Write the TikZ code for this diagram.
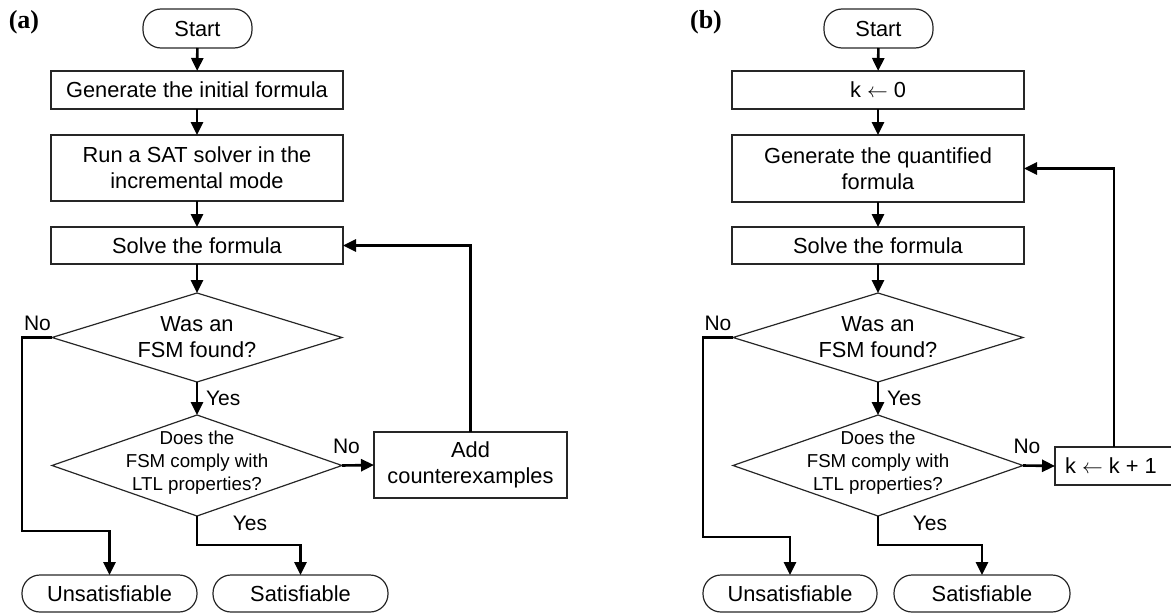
\documentclass[tikz,border=0pt]{standalone}
\usepackage{fontspec}
\setmainfont{Liberation Sans}
\newfontfamily\labfont{Liberation Serif}
\usetikzlibrary{shapes.geometric,arrows.meta}
\begin{document}
\begin{tikzpicture}[x=1pt,y=-1pt,
  every node/.style={inner sep=0pt,outer sep=0pt},
  txt/.style={font=\fontsize{21.8}{26}\selectfont,align=center},
  small/.style={font=\fontsize{18.7}{23}\selectfont,align=center},
  lbl/.style={font=\fontsize{21}{24}\selectfont},
  panel/.style={font=\labfont\bfseries\fontsize{26}{28}\selectfont},
  procbox/.style={draw=black!85,line width=1.2pt,rectangle,minimum width=292pt,txt},
  termbox/.style={draw=black!85,line width=1.2pt,rectangle,rounded corners=18pt,minimum height=38pt,txt},
  dia/.style={draw=black!85,line width=1.2pt,diamond,minimum width=290pt},
  conn/.style={line width=2.6pt,-{Triangle[length=13pt,width=12pt]}},
]
\useasboundingbox (0,0) rectangle (1171,613);
% ---------------- panel (a)
\node[panel] (pa) at (24,22) {(a)};
\node[termbox,minimum width=109pt,minimum height=39pt] (startA) at (197.5,28.5) {Start};
\node[procbox,minimum height=38pt] (genA) at (197,90) {Generate the initial formula};
\node[procbox,minimum height=66pt] (runA) at (197,168) {Run a SAT solver in the\\incremental mode};
\node[procbox,minimum height=37pt] (solveA) at (197,245.5) {Solve the formula};
\node[dia,minimum height=89pt] (d1A) at (197,337.5) {};
\node[txt] (t1A) at (d1A.center) {Was an\\FSM found?};
\node[dia,minimum height=101pt] (d2A) at (197,465.5) {};
\node[small] (t2A) at (197,463) {Does the\\FSM comply with\\LTL properties?};
\node[procbox,minimum width=193pt,minimum height=66pt] (addA) at (470.5,465) {Add\\counterexamples};
\node[termbox,minimum width=175pt,minimum height=37pt] (unsatA) at (109.5,593.5) {Unsatisfiable};
\node[termbox,minimum width=175pt,minimum height=37pt] (satA) at (300.5,593.5) {Satisfiable};

\draw[conn] (startA) -- (genA);
\draw[conn] (genA) -- (runA);
\draw[conn] (runA) -- (solveA);
\draw[conn] (solveA) -- (d1A.north);
\draw[conn] (d1A.south) -- (d2A.north);
\node[lbl,anchor=west] (yA1) at (206,398) {Yes};
\draw[conn] (d2A.east) -- (addA.west);
\node[lbl] (nA2) at (346.5,446) {No};
\draw[conn] (addA.north) |- (solveA.east);
\coordinate (a1) at (22,531);
\draw[conn] (d1A.west) -| (a1) -| (unsatA.north);
\node[lbl] (nA1) at (37.5,323) {No};
\coordinate (a2) at (197,545);
\draw[conn] (d2A.south) -- (a2) -| (satA.north);
\node[lbl] (yA2) at (250,523) {Yes};

% ---------------- panel (b)
\node[panel] (pb) at (706,22) {(b)};
\node[termbox,minimum width=109pt,minimum height=39pt] (startB) at (878.5,28.5) {Start};
\node[procbox,minimum height=38pt] (kB) at (878,90) {k $\leftarrow$ 0};
\node[procbox,minimum height=67pt] (genB) at (878,168.5) {Generate the quantified\\formula};
\node[procbox,minimum height=37pt] (solveB) at (878,245.5) {Solve the formula};
\node[dia,minimum height=89pt] (d1B) at (878,337.5) {};
\node[txt] (t1B) at (d1B.center) {Was an\\FSM found?};
\node[dia,minimum height=101pt] (d2B) at (878,465.5) {};
\node[small] (t2B) at (878,463) {Does the\\FSM comply with\\LTL properties?};
\node[draw=black!85,line width=1.2pt,rectangle,minimum width=118pt,minimum height=38pt] (incB) at (1114,466) {};
\node[txt] (incBt) at (1111,466) {k $\leftarrow$ k + 1};
\node[termbox,minimum width=174pt,minimum height=37pt] (unsatB) at (790,593.5) {Unsatisfiable};
\node[termbox,minimum width=176pt,minimum height=37pt] (satB) at (982,593.5) {Satisfiable};

\draw[conn] (startB) -- (kB);
\draw[conn] (kB) -- (genB);
\draw[conn] (genB) -- (solveB);
\draw[conn] (solveB) -- (d1B.north);
\draw[conn] (d1B.south) -- (d2B.north);
\node[lbl,anchor=west] (yB1) at (887,398) {Yes};
\draw[conn] (d2B.east) -- (incB.west);
\node[lbl] (nB2) at (1027,446) {No};
\draw[conn] (incB.north) |- (genB.east);
\coordinate (b1) at (703,537);
\draw[conn] (d1B.west) -| (b1) -| (unsatB.north);
\node[lbl] (nB1) at (718,323) {No};
\coordinate (b2) at (878,545);
\draw[conn] (d2B.south) -- (b2) -| (satB.north);
\node[lbl] (yB2) at (930,523) {Yes};
\end{tikzpicture}
\end{document}
